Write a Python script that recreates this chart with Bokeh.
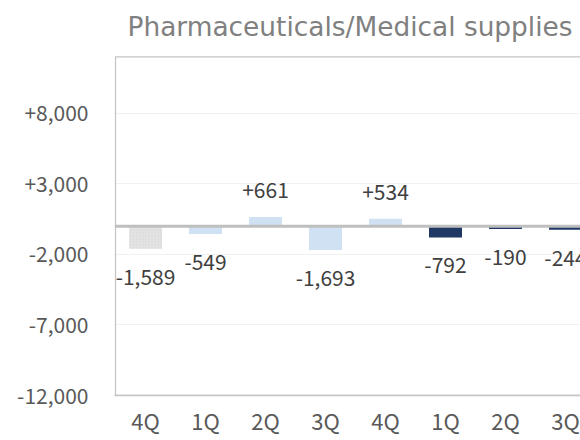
from bokeh.plotting import figure
from bokeh.models import ColumnDataSource, Range1d, FixedTicker, Span, Label, BoxAnnotation
from bokeh.core.properties import value
from bokeh.embed import file_html
from bokeh.resources import INLINE

# ---- data ----
quarters = ["4Q", "1Q", "2Q", "3Q", "4Q", "1Q", "2Q", "3Q"]
changes = [-1589, -549, 661, -1693, 534, -792, -190, -244]
y_ticks = [-12000, -7000, -2000, 3000, 8000]
y_tick_labels = ["-12,000", "-7,000", "-2,000", "+3,000", "+8,000"]
axis_min, axis_max = -12000, 12000
title_text = "Pharmaceuticals/Medical supplies"

# ---- styles ----
bar_colors = ["#e3e3e3", "#cfe1f2", "#cfe1f2", "#cfe1f2", "#cfe1f2", "#203864", "#203864", "#203864"]
bar_hatch = ["dot", "blank", "blank", "blank", "blank", "blank", "blank", "blank"]
FONT = "Noto Sans CJK JP"
BORDER = "#c4c4c4"

xs = list(range(len(changes)))
labels = [("+" if v > 0 else "-") + f"{abs(v):,}" for v in changes]
offsets = [-27 if v > 0 else 28 for v in changes]

src = ColumnDataSource(dict(x=xs, top=changes, color=bar_colors, hatch=bar_hatch,
                            label=labels, off=offsets))

# the frame reaches the top of the canvas so that the title can sit inside it;
# the visible plot box is drawn from axis_min to axis_max
p = figure(width=580, height=440, output_backend="svg", toolbar_location=None,
           x_range=Range1d(-0.5167, 7.25), y_range=Range1d(axis_min, 16000),
           min_border_left=114, min_border_right=0, min_border_top=0, min_border_bottom=45)

p.vbar(x="x", top="top", bottom=0, width=0.55, source=src, fill_color="color",
       line_color=None, hatch_pattern="hatch", hatch_color="#d6d6d6", hatch_scale=3,
       hatch_weight=1)

p.add_layout(BoxAnnotation(left=-0.5, right=9, bottom=axis_min, top=axis_max,
                           fill_alpha=0, line_color=BORDER, line_alpha=1.0,
                           line_width=1.3, level="underlay"))
p.add_layout(Span(location=0, dimension="width", line_color="#bfbfbf", line_width=3))

p.text(x="x", y="top", text="label", y_offset="off", source=src,
       text_font=value(FONT), text_font_size="21px", text_color="#404040",
       text_align="center", text_baseline="middle")

p.add_layout(Label(x=13, y=369, x_units="screen", y_units="screen", text=title_text,
                   text_font="DejaVu Sans", text_font_size="26.4px", text_color="#808080",
                   text_align="left", text_baseline="alphabetic"))

p.outline_line_color = None
p.background_fill_color = "white"
p.border_fill_color = "white"

# y axis
p.yaxis.ticker = FixedTicker(ticks=y_ticks)
p.yaxis.major_label_overrides = {t: l for t, l in zip(y_ticks, y_tick_labels)}
p.yaxis.major_label_text_font = FONT
p.yaxis.major_label_text_font_size = "21px"
p.yaxis.major_label_text_color = "#595959"
p.yaxis.major_tick_line_color = None
p.yaxis.major_tick_out = 0
p.yaxis.major_tick_in = 0
p.yaxis.minor_tick_line_color = None
p.yaxis.axis_line_color = None
p.yaxis.major_label_standoff = 26

# x axis
p.xaxis.ticker = FixedTicker(ticks=xs)
p.xaxis.major_label_overrides = {i: q for i, q in enumerate(quarters)}
p.xaxis.major_label_text_font = FONT
p.xaxis.major_label_text_font_size = "22px"
p.xaxis.major_label_text_color = "#595959"
p.xaxis.major_tick_line_color = None
p.xaxis.major_tick_out = 0
p.xaxis.major_tick_in = 0
p.xaxis.minor_tick_line_color = None
p.xaxis.axis_line_color = BORDER
p.xaxis.axis_line_width = 1.3
p.xaxis.major_label_standoff = 8

# grids
p.xgrid.grid_line_color = None
p.ygrid.ticker = FixedTicker(ticks=y_ticks[1:])
p.ygrid.grid_line_color = "#e3e3e3"
p.ygrid.grid_line_dash = "1 1"
p.ygrid.grid_line_width = 1

open("out.html", "w").write(file_html(p, INLINE))
